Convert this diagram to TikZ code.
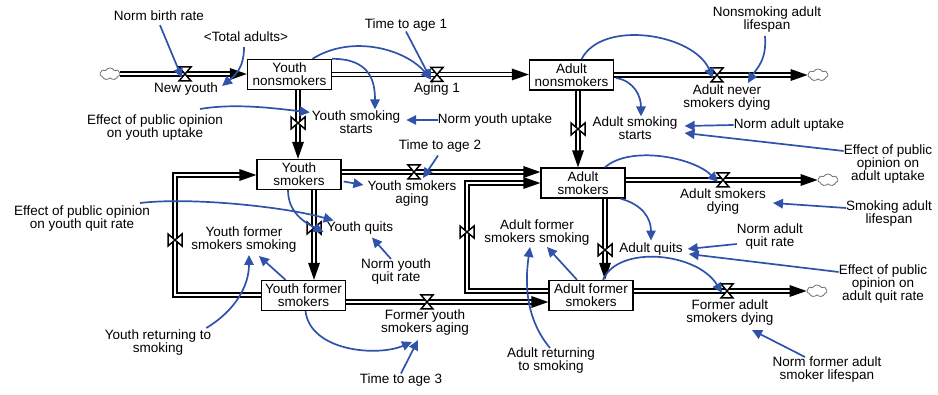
\documentclass[tikz,border=0pt]{standalone}
\usepackage{fontspec}
\setmainfont{Liberation Sans}
\usetikzlibrary{arrows.meta,calc,shapes.symbols}
\definecolor{linkblue}{RGB}{48,82,170}
\begin{document}
\begin{tikzpicture}[x=1pt,y=-1pt,
  every node/.style={font=\fontsize{13.5}{13}\selectfont, inner sep=0pt, align=center},
  stock/.style={draw=black, line width=1.4pt, fill=white, minimum width=84pt, minimum height=30pt},
  cloudy/.style={cloud, cloud puffs=7, cloud puff arc=120, aspect=1.6, draw=black!55, line width=0.8pt, fill=white, minimum width=20pt, minimum height=12pt},
  pipe/.style={draw=black, line width=1.3pt, double=white, double distance=2.6pt, line join=miter, shorten >=15pt},
  valvestyle/.style={draw=black, fill=white, line width=1.5pt, line join=miter},
  link/.style={draw=linkblue, line width=1.7pt, -{Triangle[length=10pt,width=9.5pt]}},
  headr/.pic={\fill[black] (0,0) -- (-17,-6) -- (-17,6) -- cycle;},
  headd/.pic={\fill[black] (0,0) -- (-6,-17) -- (6,-17) -- cycle;},
  valveh/.pic={\draw[valvestyle] (-6,-7) -- (6,-7) -- (0,0) -- cycle (-6,7) -- (6,7) -- (0,0) -- cycle;},
  valvev/.pic={\draw[valvestyle] (-7,-6) -- (-7,6) -- (0,0) -- cycle (7,-6) -- (7,6) -- (0,0) -- cycle;}
]
\useasboundingbox (0,0) rectangle (938,395);

% clouds
\node[cloudy] (c1) at (110,74) {};
\node[cloudy] (c2) at (818,75) {};
\node[cloudy] (c3) at (828,180) {};
\node[cloudy] (c4) at (817,291) {};

% stocks
\node[stock] (yn) at (289.5,74.5) {Youth\\nonsmokers};
\node[stock] (an) at (571.5,75) {Adult\\nonsmokers};
\node[stock] (ys) at (299,174.5) {Youth\\smokers};
\node[stock] (as) at (583,183) {Adult\\smokers};
\node[stock] (yf) at (303.5,295.5) {Youth former\\smokers};
\node[stock] (af) at (591,295.5) {Adult former\\smokers};

% pipe helper coordinates
\coordinate (q1) at (c1.east);
\coordinate (q2) at (yn.east);
\coordinate (q3) at (an.east);
\coordinate (q4) at ([shift={(8.5,0)}]yn.south);
\coordinate (q5) at ([shift={(6.5,0)}]an.south);
\coordinate (q6) at ([shift={(0,-2.5)}]ys.east);
\coordinate (q7) at ([shift={(0,-3)}]as.east);
\coordinate (q8) at ([shift={(15,0)}]ys.south);
\coordinate (q9) at ([shift={(22,0)}]as.south);
\coordinate (q10) at ([shift={(0,6.5)}]yf.east);
\coordinate (q11) at ([shift={(0,-4.5)}]af.east);
\coordinate (q12) at ([shift={(0,-0.5)}]yf.west);
\coordinate (k12) at (175,175);
\coordinate (q13) at ([shift={(0,-4.5)}]af.west);
\coordinate (k13) at (467,183);

% pipes
\draw[pipe] (q1) -- (q1 -| yn.west);   \pic at (q1 -| yn.west) {headr};
\draw[pipe] (q2) -- (q2 -| an.west);   \pic at (q2 -| an.west) {headr};
\draw[pipe] (q3) -- (q3 -| c2.west);   \pic at (q3 -| c2.west) {headr};
\draw[pipe] (q4) -- (q4 |- ys.north);  \pic at (q4 |- ys.north) {headd};
\draw[pipe] (q5) -- (q5 |- as.north);  \pic at (q5 |- as.north) {headd};
\draw[pipe] (q6) -- (q6 -| as.west);   \pic at (q6 -| as.west) {headr};
\draw[pipe] (q7) -- (q7 -| c3.west);   \pic at (q7 -| c3.west) {headr};
\draw[pipe] (q8) -- (q8 |- yf.north);  \pic at (q8 |- yf.north) {headd};
\draw[pipe] (q9) -- (q9 |- af.north);  \pic at (q9 |- af.north) {headd};
\draw[pipe] (q10) -- (q10 -| af.west); \pic at (q10 -| af.west) {headr};
\draw[pipe] (q11) -- (q11 -| c4.west); \pic at (q11 -| c4.west) {headr};
\draw[pipe] (q12) -| (k12) -- (k12 -| ys.west); \pic at (k12 -| ys.west) {headr};
\draw[pipe] (q13) -| (k13) -- (k13 -| as.west); \pic at (k13 -| as.west) {headr};

% valves
\coordinate (v1) at (185,74);
\coordinate (v2) at (437,74.5);
\coordinate (v3) at (717,75);
\coordinate (v4) at (298,123);
\coordinate (v5) at (578,129);
\coordinate (v6) at (414,172);
\coordinate (v7) at (723,180);
\coordinate (v8) at (314,228);
\coordinate (v9) at (605,250);
\coordinate (v10) at (427,302);
\coordinate (v11) at (727,291);
\coordinate (v12) at (175,240);
\coordinate (v13) at (467,232);
\foreach \v in {v1,v2,v3,v6,v7,v10,v11} {\pic at (\v) {valveh};}
\foreach \v in {v4,v5,v8,v9,v12,v13} {\pic at (\v) {valvev};}

% auxiliary variables
\node (nbr) at (159,16) {Norm birth rate};
\node (ta) at (246,37) {<Total adults>};
\node (tta1) at (406,25) {Time to age 1};
\node (nal) at (767,20) {Nonsmoking adult\\lifespan};
\node (epyu) at (155,128) {Effect of public opinion\\on youth uptake};
\node (nyu) at (495,120) {Norm youth uptake};
\node (tta2) at (440,146) {Time to age 2};
\node (nau) at (789,125) {Norm adult uptake};
\node (epau) at (888,164) {Effect of public\\opinion on\\adult uptake};
\node (sal) at (889,214) {Smoking adult\\lifespan};
\node (epyq) at (82,219) {Effect of public opinion\\on youth quit rate};
\node (nyq) at (396,272) {Norm youth\\quit rate};
\node (naq) at (770,237) {Norm adult\\quit rate};
\node (epaq) at (883,284) {Effect of public\\opinion on\\adult quit rate};
\node (yrs) at (158,343) {Youth returning to\\smoking};
\node (tta3) at (401,380) {Time to age 3};
\node (ars) at (551,361) {Adult returning\\to smoking};
\node (nfal) at (827,370) {Norm former adult\\smoker lifespan};

% flow labels
\node (lny) at (186,89) {New youth};
\node (la1) at (437,89) {Aging 1};
\node (lansd) at (727,98) {Adult never\\smokers dying};
\node (lyss) at (356,122) {Youth smoking\\starts};
\node (lass) at (635,128) {Adult smoking\\starts};
\node (lysa) at (412,194) {Youth smokers\\aging};
\node (lasd) at (723,202) {Adult smokers\\dying};
\node (lyq) at (360,228) {Youth quits};
\node (laq) at (651,249) {Adult quits};
\node (lfysa) at (425,323) {Former youth\\smokers aging};
\node (lfasd) at (730,313) {Former adult\\smokers dying};
\node (lyfss) at (244,240) {Youth former\\smokers smoking};
\node (lafss) at (537,233) {Adult former\\smokers smoking};

% causal links
\draw[link] ([shift={(1,4)}]nbr.south) -- ([shift={(-3,4)}]v1);
\draw[link] ([shift={(-2,5)}]ta.south) .. controls +(0,22) and +(12,-10) .. ([shift={(4,-3)}]lny.east);
\draw[link] ([shift={(23,0)}]yn.north) .. controls +(40,-25) and +(-25,-30) .. ([shift={(-6,5)}]v2);
\draw[link] (tta1.south) -- ([shift={(-6,5)}]v2);
\draw[link] (yn.north east) .. controls +(38,0) and +(0,-28) .. ([shift={(19,-1)}]lyss.north);
\draw[link] ([shift={(45,-6)}]epyu.north) .. controls +(35,-6) and +(-35,-4) .. ([shift={(-2,2)}]lyss.north west);
\draw[link] (nyu.west) -- ([shift={(6,-2)}]lyss.east);
\draw[link] ([shift={(10,0)}]an.north) .. controls +(20,-40) and +(-20,-45) .. ([shift={(-4,3)}]v3);
\draw[link] ([shift={(-2,3)}]nal.south) .. controls +(2,25) and +(8,-14) .. ([shift={(21,-2)}]lansd.north);
\draw[link] ([shift={(2,3)}]an.east) .. controls +(18,3) and +(0,-20) .. ([shift={(6,0)}]lass.north);
\draw[link] (nau.west) -- ([shift={(7,-2)}]lass.east);
\draw[link] ([shift={(0,-13)}]epau.west) -- ([shift={(7,5)}]lass.east);
\draw[link] ([shift={(22,0)}]as.north) .. controls +(25,-22) and +(-25,-25) .. ([shift={(-5,2)}]v7);
\draw[link] ([shift={(0,-6)}]sal.west) -- ([shift={(7,1)}]lasd.east);
\draw[link] ([shift={(-5,0)}]as.south east) .. controls +(22,6) and +(0,-22) .. ([shift={(0,-2)}]laq.north);
\draw[link] ([shift={(0,7)}]naq.west) -- ([shift={(5,0)}]laq.east);
\draw[link] ([shift={(0,-12)}]epaq.west) -- ([shift={(6,5)}]laq.east);
\draw[link] ([shift={(2,7)}]ys.east) -- ([shift={(-4,-9)}]lysa.west);
\draw[link] ([shift={(-2,3)}]tta2.south) -- ([shift={(11,-3)}]lysa.north);
\draw[link] ([shift={(-11,0)}]ys.south) .. controls +(0,24) and +(-16,-8) .. ([shift={(-3,4)}]lyq.west);
\draw[link] ([shift={(58,-3)}]epyq.north) .. controls +(50,-6) and +(-50,-14) .. ([shift={(7,-1)}]lyq.north west);
\draw[link] ([shift={(-5,0)}]nyq.north) -- ([shift={(12,3)}]lyq.south);
\draw[link] ([shift={(-18,0)}]yf.north) -- ([shift={(15,3)}]lyfss.south);
\draw[link] ([shift={(-5,-2)}]yrs.north east) .. controls +(30,-18) and +(0,30) .. ([shift={(5,2)}]lyfss.south);
\draw[link] ([shift={(2,0)}]yf.south) .. controls +(5,40) and +(-35,15) .. ([shift={(-13,6)}]lfysa.south);
\draw[link] (tta3.north) -- ([shift={(-7,4)}]lfysa.south);
\draw[link] ([shift={(-14,0)}]af.north) -- ([shift={(10,1)}]lafss.south);
\draw[link] ([shift={(-1,0)}]ars.north) .. controls +(-25,-30) and +(-5,35) .. ([shift={(-7,1)}]lafss.south);
\draw[link] ([shift={(12,0)}]af.north) .. controls +(15,-35) and +(-25,-41) .. ([shift={(-5,2)}]v11);
\draw[link] ([shift={(-22,0)}]nfal.north) -- ([shift={(22,4)}]lfasd.south);
\end{tikzpicture}
\end{document}
